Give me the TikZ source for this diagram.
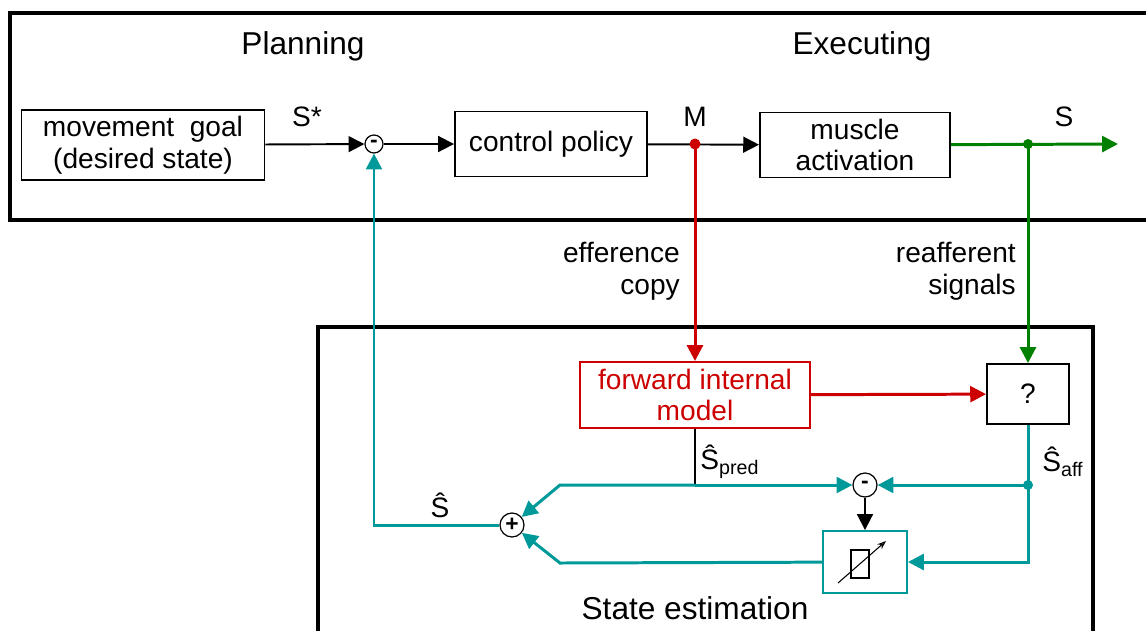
\documentclass[tikz,border=0pt]{standalone}
\usepackage{fontspec}
\setmainfont{Liberation Sans}
\usetikzlibrary{positioning, arrows.meta}
\definecolor{estim}{RGB}{0,153,153}
\definecolor{efferent}{RGB}{204,0,0}
\definecolor{reafferent}{RGB}{0,128,0}
\tikzset{
  >={Triangle[length=9pt, width=9pt]},
  every node/.style={font=\fontsize{16}{18}\selectfont},
  frame/.style={line width=1.8pt},
  block/.style={draw, line width=1.1pt, align=center, minimum width=3.8cm, minimum height=1.3cm},
  sum/.style={draw, circle, line width=0.7pt, inner sep=0pt, minimum size=0.48cm, font=\fontsize{13}{13}\selectfont\bfseries},
  signal/.style={line width=1.1pt},
  estline/.style={line width=1.7pt, estim},
  title/.style={font=\fontsize{18}{20}\selectfont},
}

\begin{document}
\begin{tikzpicture}[x=0.02cm, y=-0.02cm]
        \useasboundingbox (0,0) rectangle (1146,630);

        % frames and titles
        \draw[frame] (1150,13) -| (10,220) -- (1150,220);
        \draw[frame] (318,640) |- (1093,327) -- (1093,640);
        \node[title] (plan) at (303,46) {Planning};
        \node[title] (exec) at (862,46) {Executing};
        \node[title] (est) at (695,608) {State estimation};

        % blocks
        \node[block, minimum width=4.86cm] (goal) at (143,145) {movement\ \ goal\\(desired state)};
        \node[sum, minimum size=0.36cm] (sub1) at (374,144) {-};
        \node[block, minimum width=3.84cm] (policy) at (551,144) {control policy};
        \node[block] (muscle) at (855,145) {muscle\\activation};
        \node[block, minimum width=4.6cm, minimum height=1.32cm, draw=efferent, text=efferent] (fim) at (695,395) {forward internal\\model};
        \node[block, minimum width=1.64cm, minimum height=1.2cm] (query) at (1028,394) {?};
        \node[sum] (sub2) at (865,485) {-};
        \node[sum] (add) at (512,525) {+};
        \node[block, minimum width=1.68cm, minimum height=1.24cm, draw=estim] (gain) at (865,562) {};

        % junctions
        \coordinate (mdot) at (695,144);
        \coordinate (sdot) at (1028,144);
        \coordinate (out) at (1118,144);
        \coordinate (jpred) at (695,485);
        \coordinate (adot) at (1028,485);
        \coordinate (kp1) at (560,485);
        \coordinate (kp2) at (560,563);

        % signal labels
        \node (lsstar) at (307,117) {S*};
        \node (lm) at (695,117) {M};
        \node (ls) at (1064,117) {S};
        \node[align=right, anchor=east] (lcopy) at (686,271) {efference\\copy};
        \node[align=right, anchor=east] (lreaff) at (1022,271) {reafferent\\signals};
        \node[anchor=west, inner sep=0pt] (lpred) at (700,462) {\^{S}\textsubscript{pred}};
        \node[anchor=west, inner sep=0pt] (laff) at (1042,462) {\^{S}\textsubscript{aff}};
        \node (lhat) at (440,505) {\^{S}};

        % planning and executing
        \draw[signal, ->] (goal) -- (sub1);
        \draw[signal, ->] (sub1) -- (policy);
        \draw[signal, ->] (policy) -- (muscle);
        \draw[estline, reafferent, ->] (muscle) -- (out);
        \draw[estline, efferent, ->] (mdot) -- (fim);
        \draw[estline, reafferent, ->] (sdot) -- (query);
        \fill[efferent] (mdot) circle (5.5);
        \fill[reafferent] (sdot) circle (5);

        % state estimation
        \draw[estline, efferent, ->] (fim) -- (query);
        \draw[signal] (fim) -- (jpred);
        \draw[estline, ->] (jpred) -- (sub2);
        \draw[estline, ->] (jpred) -- (kp1) -- (add);
        \draw[estline] (query) -- (adot);
        \draw[estline, ->] (adot) -- (sub2);
        \draw[estline, ->] (adot) |- (gain);
        \draw[estline, ->] (gain) -- (kp2) -- (add);
        \draw[estline, ->] (add) -| (sub1);
        \draw[signal, ->] (sub2) -- (gain);
        \fill[estim] (adot) circle (5);

        % variable gain symbol
        \draw[line width=0.6pt] (851,550) rectangle (869,578);
        \draw[line width=0.6pt, -{Stealth[length=5pt, open]}] (838,583) -- (886,541);
\end{tikzpicture}
\end{document}
